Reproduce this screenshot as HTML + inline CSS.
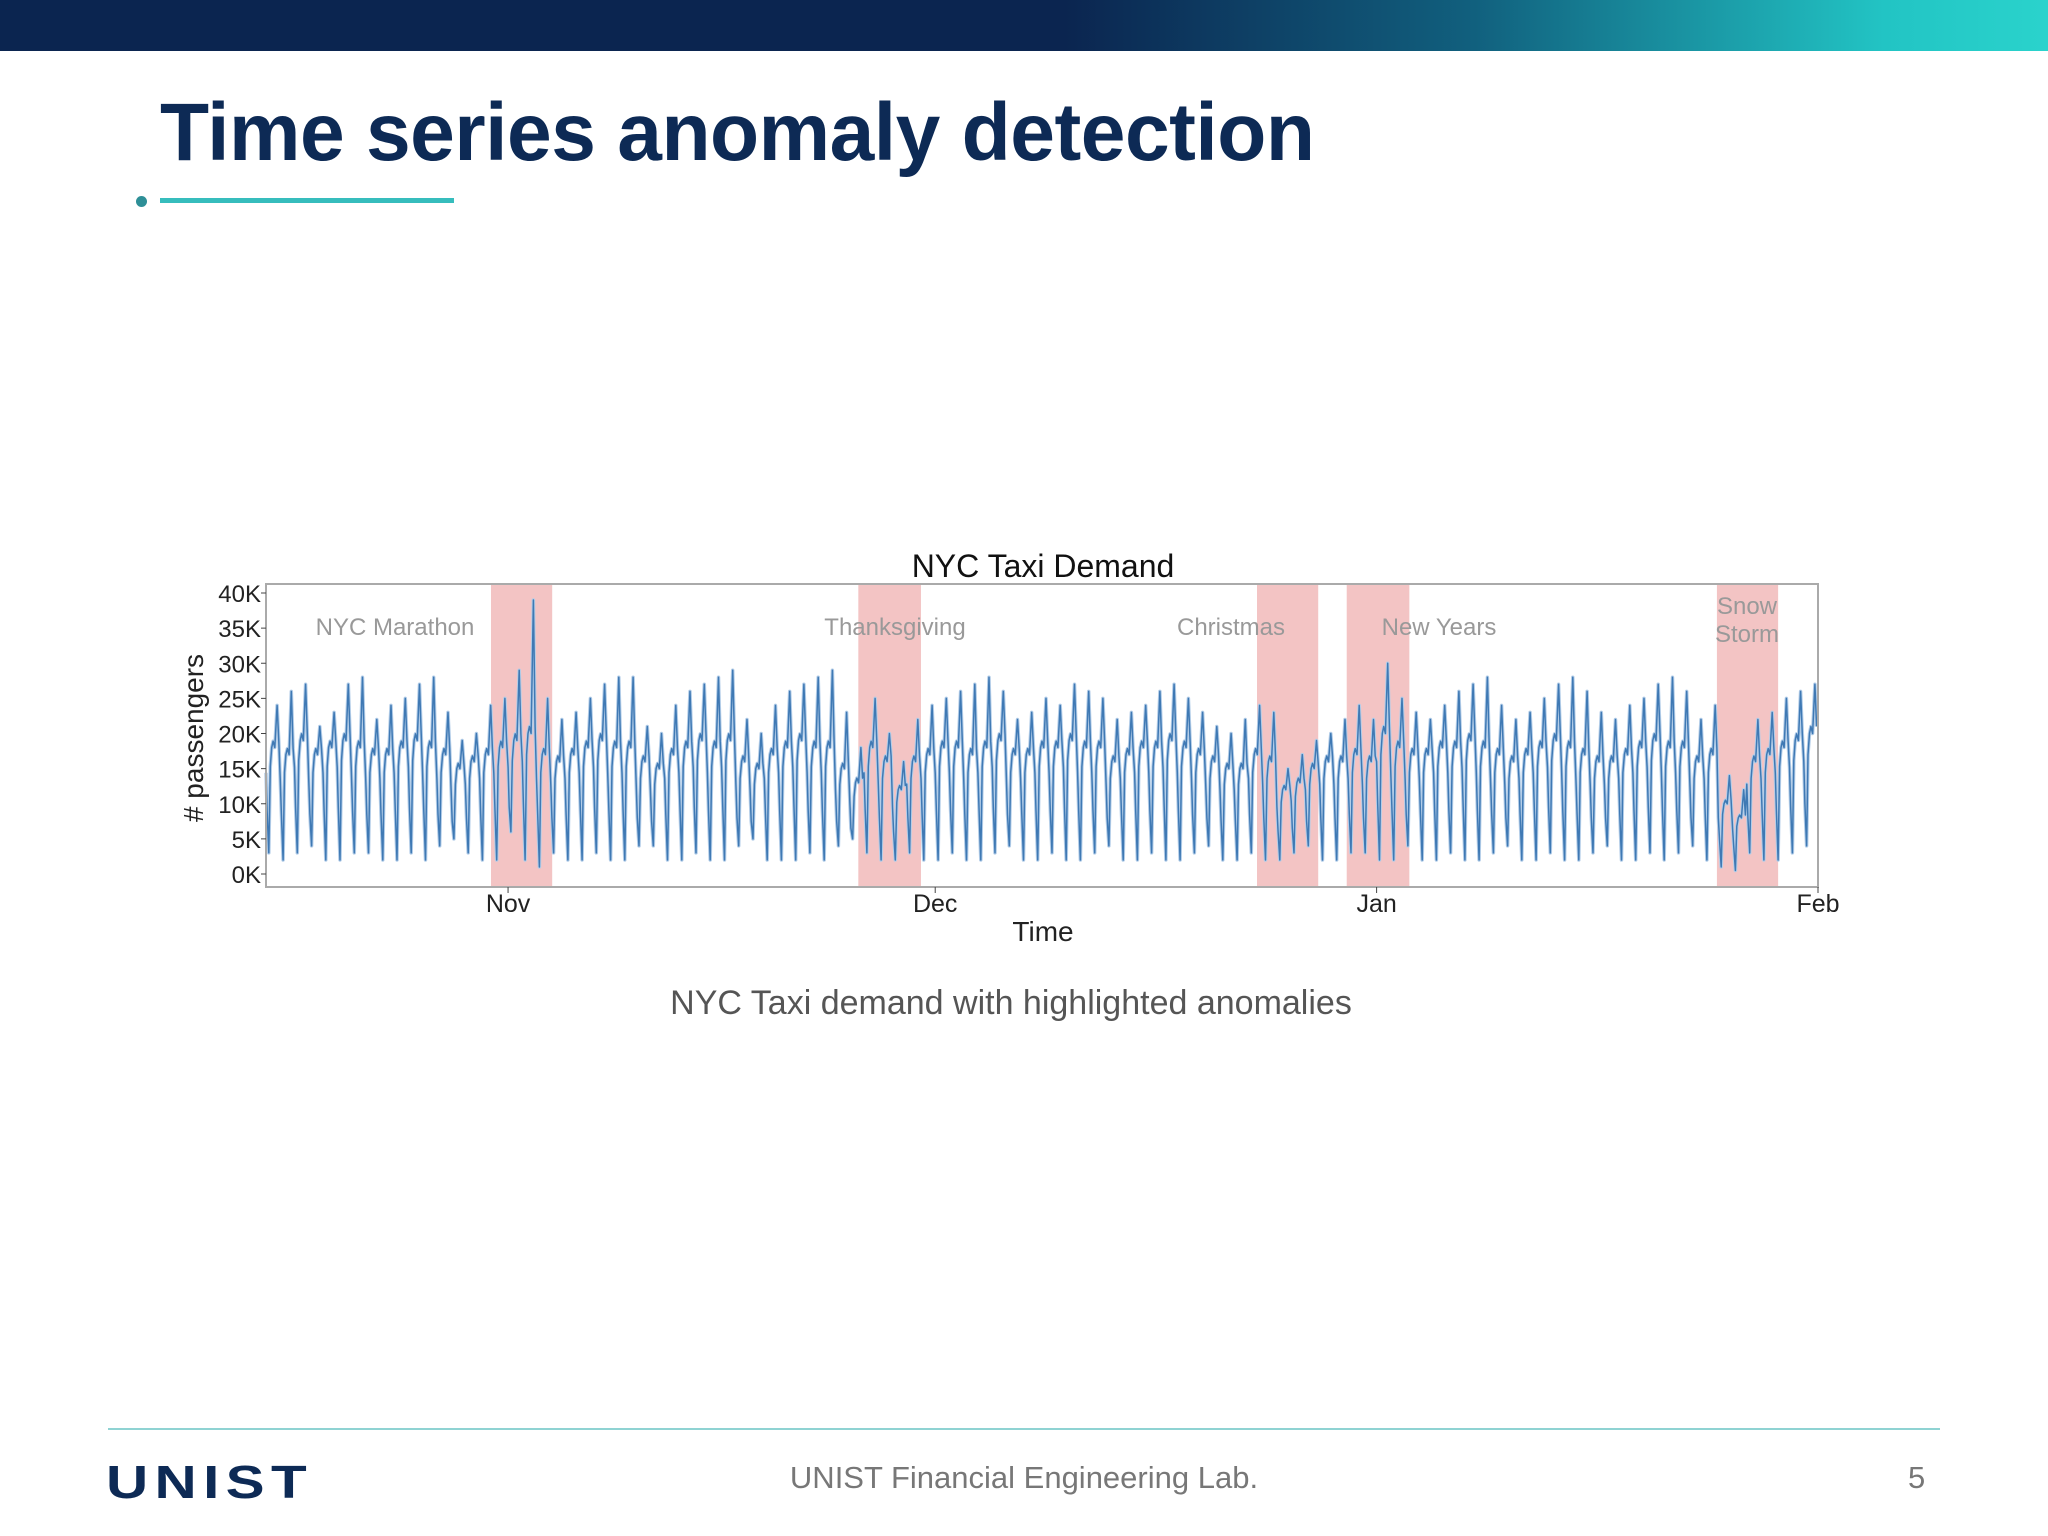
<!DOCTYPE html>
<html><head><meta charset="utf-8"><style>
body{margin:0;width:2048px;height:1536px;background:#fff;position:relative;overflow:hidden;font-family:"Liberation Sans",sans-serif}
.hdr{position:absolute;left:0;top:0;width:2048px;height:51px;background:linear-gradient(90deg,#0b2550 0%,#0b2550 52%,#11607e 72%,#22c4c4 92%,#2ad3cc 100%)}
.title{position:absolute;left:160px;top:86px;font-size:82px;font-weight:bold;color:#0d2a55;letter-spacing:-0.5px;transform:scaleX(0.98);transform-origin:left}
.uline{position:absolute;left:160px;top:198px;width:294px;height:5px;background:#36bdbd}
.dot{position:absolute;left:136px;top:196px;width:11px;height:11px;border-radius:50%;background:#2e8f97}
.caption{position:absolute;left:0;width:2022px;text-align:center;top:984px;font-size:34px;color:#555}
.fline{position:absolute;left:108px;top:1428px;width:1832px;height:2px;background:#8fd3d3}
.logo{position:absolute;left:106px;top:1455px;font-size:46px;font-weight:bold;color:#0d2a55;letter-spacing:5px;transform:scaleX(1.27);transform-origin:left}
.ftext{position:absolute;left:0;width:2048px;text-align:center;top:1460px;font-size:31px;color:#777}
.pnum{position:absolute;left:1908px;top:1460px;font-size:31px;color:#777}
</style></head><body>
<div class="hdr"></div>
<div class="title">Time series anomaly detection</div>
<div class="dot"></div>
<div class="uline"></div>
<svg id="chart" width="2048" height="1536" style="position:absolute;left:0;top:0"></svg>
<div class="caption">NYC Taxi demand with highlighted anomalies</div>
<div class="fline"></div>
<div class="logo">UNIST</div>
<div class="ftext">UNIST Financial Engineering Lab.</div>
<div class="pnum">5</div>
<script>
const yTicks=[0,5,10,15,20,25,30,35,40];
const yTickLabels=["0K","5K","10K","15K","20K","25K","30K","35K","40K"];
const monthDays=[17,47,78,109];
const monthLabels=["Nov","Dec","Jan","Feb"];
const bandStart=[15.8,41.6,69.6,75.9,101.9];
const bandEnd=[20.1,46.0,73.9,80.3,106.2];
const bandLabels=["NYC Marathon","Thanksgiving","Christmas","New Years","Snow|Storm"];
const dailyPeak=[24,26,27,21,23,27,28, 22,24,25,27,28,23,19, 20,24,25,29,39,25,22, 23,25,27,28,28,21,20, 24,26,27,28,29,22,20, 24,26,27,28,29,23,18, 25,20,16,22,24,25,26, 27,28,26,22,23,25,24, 27,26,25,22,23,24,26, 27,25,23,21,20,22,24, 23,15,17,19,20,22,24, 22,30,25,23,22,24,26, 27,28,24,22,23,25,27, 28,26,23,22,24,25,27, 28,26,22,24,14,12,22, 23,25,26,27];
const dailyTrough=[3,2,3,4,2,2,3, 3,2,2,3,2,4,5, 3,2,2,6,2,1,3, 2,2,3,2,2,4,4, 2,2,3,2,2,4,5, 2,2,2,3,2,4,5, 3,2,2,3,2,2,3, 2,2,3,4,2,2,3, 2,2,3,4,2,2,3, 2,2,3,4,2,2,3, 2,2,3,4,2,2,3, 3,2,2,4,2,2,3, 2,2,3,4,2,2,3, 2,2,3,4,2,2,3, 2,3,4,2,1,0.5,3, 2,2,3,4];
const dailyMid=[18,17,19,17,18,19,18, 17,17,18,19,18,17,15, 16,17,18,19,20,17,16, 17,18,19,18,18,16,15, 17,18,19,18,19,16,15, 17,18,19,18,18,15,13, 18,16,12,16,17,18,18, 17,18,19,17,17,18,18, 19,18,18,16,17,18,18, 19,18,17,16,15,15,17, 16,12,13,15,16,16,17, 16,20,18,17,17,18,18, 19,18,17,16,17,18,19, 18,17,16,16,17,18,19, 18,18,16,17,10,8,16, 17,18,19,20];
const svg=document.getElementById('chart');
const NS='http://www.w3.org/2000/svg';
const L=266,R=1818,T=584,B=887,Y0=874,Y40=593,D=109;
const x=d=>L+d*(R-L)/D;
const y=v=>Y0+v*(Y40-Y0)/40;
function mk(tag,attrs){const e=document.createElementNS(NS,tag);for(const k in attrs)e.setAttribute(k,attrs[k]);svg.appendChild(e);return e;}
for(let i=0;i<bandStart.length;i++){
  const r=mk('rect',{x:x(bandStart[i]),y:T,width:x(bandEnd[i])-x(bandStart[i]),height:B-T,fill:'#f3c4c4'});
  
  
}
let pts=[];
for(let d=0;d<dailyPeak.length&&d<D;d++){
  const p=dailyPeak[d],t=dailyTrough[d],m=dailyMid[d];
  pts.push([d,m*0.8],[d+0.08,m*0.5],[d+0.2,t],[d+0.3,m*0.85],[d+0.4,m],[d+0.5,m*1.05],[d+0.62,m],[d+0.78,p],[d+0.9,m*1.05]);
}
const dstr=pts.map((q,i)=>(i?'L':'M')+x(q[0]).toFixed(1)+','+y(q[1]).toFixed(1)).join('');
const fill=mk('path',{d:dstr,fill:'none',stroke:'#b3cde8',"stroke-width":3.5,"stroke-linejoin":"round"});


const line=mk('path',{d:dstr,fill:'none',stroke:'#3f79b4',"stroke-width":1.5,"stroke-linejoin":"round"});


const fr=mk('rect',{x:L,y:T,width:R-L,height:B-T,fill:'none',stroke:'#aaa',"stroke-width":2});


const tx=(s,attrs,name)=>{const e=mk('text',attrs);e.textContent=s;return e;};
yTicks.forEach((v,i)=>{
  tx(yTickLabels[i],{x:261,y:y(v)+9,"text-anchor":"end","font-size":24,fill:'#222'},'y-tick-label');
  const k=mk('line',{x1:L-5,x2:L,y1:y(v),y2:y(v),stroke:'#444'});
  
  
});
monthDays.forEach((d,i)=>{
  tx(monthLabels[i],{x:x(d),y:912,"text-anchor":"middle","font-size":25,fill:'#222'},'x-tick-label');
  const k=mk('line',{x1:x(d),x2:x(d),y1:B,y2:B+6,stroke:'#444'});
  
  
});
tx('NYC Taxi Demand',{x:1043,y:577,"text-anchor":"middle","font-size":32,fill:'#111'},'chart-title');
tx('Time',{x:1043,y:941,"text-anchor":"middle","font-size":28,fill:'#222'},'x-axis-title');
tx('# passengers',{x:0,y:0,"text-anchor":"middle","font-size":28,fill:'#222',transform:'translate(203,738) rotate(-90)'},'y-axis-title');
const labX=[395,895,1231,1439,1747];
bandLabels.forEach((s,i)=>{
  const parts=s.split('|');
  if(parts.length===1) tx(s,{x:labX[i],y:635,"text-anchor":"middle","font-size":24,fill:'#999'},'anomaly-label');
  else{tx(parts[0],{x:labX[i],y:614,"text-anchor":"middle","font-size":24,fill:'#999'},'anomaly-label');
       tx(parts[1],{x:labX[i],y:642,"text-anchor":"middle","font-size":24,fill:'#999'},'anomaly-label');}
});
</script>
</body></html>
